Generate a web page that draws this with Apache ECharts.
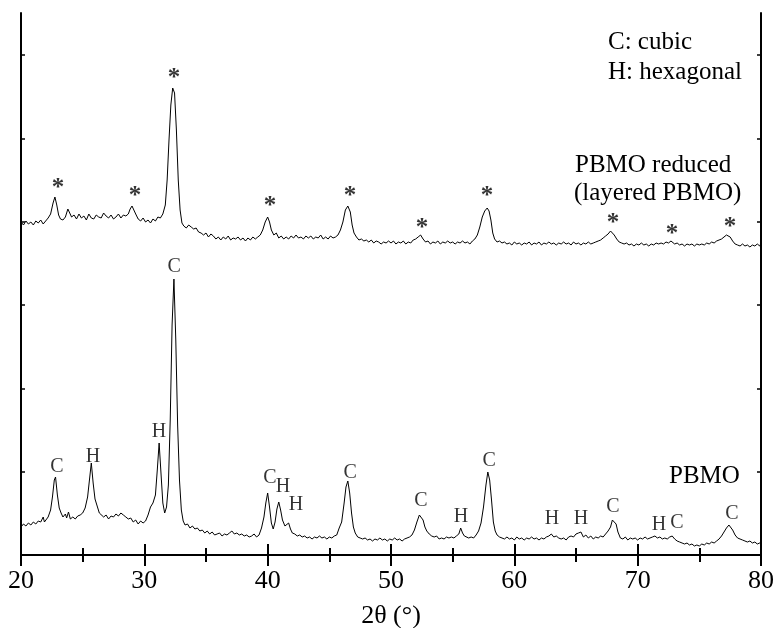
<!DOCTYPE html>
<html>
<head>
<meta charset="utf-8">
<script src="https://cdn.jsdelivr.net/npm/echarts@6/dist/echarts.min.js"></script>
<style>
html,body{margin:0;padding:0;background:#fff;}
#chart{width:777px;height:628px;}
</style>
</head>
<body>
<div id="chart"></div>
<script>
// 2θ (deg), intensity (a.u.)
const pbmoReduced = [
[20.0,333],[20.2,330],[20.4,334],[20.6,331],[20.8,333],[21.0,330],[21.2,334],[21.4,332],[21.6,335],[21.8,331],
[22.0,334],[22.2,337],[22.4,341],[22.6,352],[22.75,358],[22.9,350],[23.05,340],[23.2,336],[23.4,335],[23.6,338],
[23.8,346],[23.95,344],[24.1,338],[24.3,340],[24.5,336],[24.7,341],[24.9,337],[25.1,339],[25.3,335],[25.5,341],
[25.7,337],[25.9,336],[26.1,340],[26.3,338],[26.5,337],[26.7,342],[26.9,339],[27.1,337],[27.3,340],[27.5,336],
[27.7,338],[27.9,341],[28.1,337],[28.3,340],[28.5,339],[28.7,341],[28.85,346],[29.0,349],[29.15,347],[29.3,341],
[29.5,336],[29.7,334],[29.9,337],[30.1,333],[30.3,335],[30.5,332],[30.7,336],[30.9,334],[31.1,338],[31.3,337],
[31.5,341],[31.7,350],[31.85,375],[32.0,415],[32.15,450],[32.3,467],[32.45,462],[32.6,425],[32.75,375],[32.9,345],
[33.05,332],[33.2,329],[33.4,327],[33.6,330],[33.8,328],[34.0,326],[34.2,327],[34.4,323],[34.6,322],[34.8,320],
[35.0,322],[35.2,318],[35.4,321],[35.6,319],[35.8,316],[36.0,318],[36.2,315],[36.4,318],[36.6,316],[36.8,319],
[37.0,315],[37.2,317],[37.4,316],[37.6,318],[37.8,315],[38.0,317],[38.2,314],[38.4,317],[38.6,315],[38.8,318],
[39.0,316],[39.2,318],[39.4,320],[39.6,325],[39.8,333],[40.0,338],[40.15,333],[40.3,325],[40.5,320],[40.7,322],
[40.9,317],[41.1,319],[41.3,316],[41.5,318],[41.7,316],[41.9,319],[42.1,317],[42.3,320],[42.5,317],[42.7,318],
[42.9,316],[43.1,319],[43.3,317],[43.5,319],[43.7,316],[43.9,318],[44.1,317],[44.3,320],[44.5,316],[44.7,318],
[44.9,316],[45.1,319],[45.3,317],[45.5,318],[45.7,320],[45.9,325],[46.1,333],[46.3,345],[46.5,349],[46.7,343],
[46.85,330],[47.0,322],[47.2,318],[47.4,315],[47.6,316],[47.8,314],[48.0,315],[48.2,313],[48.4,315],[48.6,312],
[48.8,314],[49.0,313],[49.2,311],[49.4,313],[49.6,312],[49.8,314],[50.0,312],[50.2,314],[50.4,311],[50.6,313],
[50.8,312],[51.0,314],[51.2,311],[51.4,313],[51.6,312],[51.8,315],[52.0,316],[52.2,318],[52.4,320],[52.6,316],
[52.8,313],[53.0,314],[53.2,311],[53.4,313],[53.6,312],[53.8,314],[54.0,311],[54.2,313],[54.4,312],[54.6,314],
[54.8,312],[55.0,313],[55.2,311],[55.4,313],[55.6,312],[55.8,314],[56.0,312],[56.2,313],[56.4,311],[56.6,314],
[56.8,316],[57.0,320],[57.2,328],[57.4,338],[57.6,344],[57.8,347],[57.95,344],[58.1,335],[58.25,322],[58.4,316],
[58.6,313],[58.8,314],[59.0,312],[59.2,313],[59.4,311],[59.6,312],[59.8,310],[60.0,313],[60.2,311],[60.4,312],
[60.6,310],[60.8,312],[61.0,311],[61.2,313],[61.4,310],[61.6,312],[61.8,311],[62.0,313],[62.2,310],[62.4,312],
[62.6,311],[62.8,313],[63.0,311],[63.2,312],[63.4,310],[63.6,312],[63.8,311],[64.0,313],[64.2,311],[64.4,312],
[64.6,310],[64.8,313],[65.0,311],[65.2,312],[65.4,310],[65.6,312],[65.8,311],[66.0,313],[66.2,311],[66.4,312],
[66.6,313],[66.8,314],[67.0,315],[67.2,317],[67.4,319],[67.6,321],[67.8,324],[67.95,322],[68.1,320],[68.3,316],
[68.5,313],[68.7,312],[68.9,311],[69.1,312],[69.3,310],[69.5,311],[69.7,309],[69.9,311],[70.1,310],[70.3,312],
[70.5,310],[70.7,311],[70.9,309],[71.1,311],[71.3,310],[71.5,312],[71.7,311],[71.9,312],[72.1,311],[72.3,313],
[72.5,312],[72.7,314],[72.85,313],[73.0,311],[73.2,312],[73.4,310],[73.6,311],[73.8,309],[74.0,311],[74.2,310],
[74.4,311],[74.6,309],[74.8,311],[75.0,310],[75.2,311],[75.4,310],[75.6,312],[75.8,311],[76.0,313],[76.2,312],
[76.4,314],[76.6,315],[76.8,316],[77.0,318],[77.2,320],[77.35,321],[77.5,318],[77.7,314],[77.9,311],[78.1,310],
[78.3,309],[78.5,311],[78.7,309],[78.9,310],[79.1,308],[79.3,310],[79.5,309],[79.7,311],[79.9,309],[80.0,312]
];

const pbmo = [
[20.0,28],[20.2,31],[20.4,29],[20.6,32],[20.8,30],[21.0,33],[21.2,31],[21.4,34],[21.6,33],[21.8,38],
[21.9,33],[22.0,35],[22.2,38],[22.4,45],[22.55,58],[22.7,75],[22.8,78],[22.95,60],[23.1,47],[23.25,42],
[23.4,38],[23.6,41],[23.7,37],[23.85,43],[24.0,36],[24.2,38],[24.4,36],[24.6,39],[24.8,40],[25.0,42],
[25.2,47],[25.4,58],[25.55,75],[25.7,92],[25.85,72],[26.0,56],[26.2,48],[26.35,42],[26.5,44],[26.7,38],
[26.9,40],[27.1,36],[27.3,39],[27.5,38],[27.7,41],[27.9,39],[28.1,42],[28.3,40],[28.5,38],[28.7,36],
[28.9,37],[29.1,33],[29.3,35],[29.5,31],[29.7,34],[29.9,32],[30.1,34],[30.3,40],[30.5,48],[30.7,52],
[30.9,60],[31.05,85],[31.2,112],[31.35,82],[31.5,52],[31.65,42],[31.8,48],[31.95,70],[32.1,135],[32.25,230],
[32.4,276],[32.55,215],[32.7,130],[32.85,75],[33.0,45],[33.15,34],[33.3,30],[33.5,31],[33.7,27],[33.9,29],
[34.1,26],[34.3,27],[34.5,24],[34.7,25],[34.9,22],[35.1,24],[35.3,21],[35.5,23],[35.7,20],[35.9,21],
[36.1,22],[36.3,19],[36.5,21],[36.7,20],[36.9,22],[37.1,24],[37.3,21],[37.5,22],[37.7,20],[37.9,21],
[38.1,19],[38.3,20],[38.5,18],[38.7,19],[38.9,21],[39.1,18],[39.3,20],[39.5,27],[39.7,38],[39.85,52],
[40.0,62],[40.15,48],[40.3,32],[40.45,26],[40.6,33],[40.75,46],[40.9,53],[41.05,45],[41.2,35],[41.4,29],
[41.55,31],[41.7,32],[41.85,26],[42.0,22],[42.2,21],[42.4,19],[42.6,20],[42.8,18],[43.0,19],[43.2,17],
[43.4,18],[43.6,16],[43.8,18],[44.0,17],[44.2,19],[44.4,17],[44.6,18],[44.8,16],[45.0,18],[45.2,17],
[45.4,19],[45.6,20],[45.8,27],[46.0,33],[46.2,52],[46.35,68],[46.5,74],[46.65,62],[46.8,42],[46.95,28],
[47.1,22],[47.3,18],[47.5,17],[47.7,16],[47.9,17],[48.1,15],[48.3,16],[48.5,14],[48.7,16],[48.9,15],
[49.1,17],[49.3,15],[49.5,16],[49.7,14],[49.9,16],[50.1,15],[50.3,17],[50.5,15],[50.7,16],[50.9,14],
[51.1,16],[51.3,17],[51.5,18],[51.7,20],[51.9,25],[52.1,33],[52.3,40],[52.45,42],[52.6,35],[52.75,28],
[52.9,24],[53.1,21],[53.3,19],[53.5,18],[53.7,19],[53.9,16],[54.1,17],[54.3,16],[54.5,18],[54.7,17],
[54.9,18],[55.1,17],[55.3,19],[55.5,21],[55.65,27],[55.8,22],[55.95,19],[56.1,18],[56.3,17],[56.5,18],
[56.7,17],[56.9,20],[57.1,24],[57.3,32],[57.5,48],[57.7,70],[57.85,83],[58.0,75],[58.15,55],[58.3,33],
[58.45,24],[58.6,20],[58.8,18],[59.0,17],[59.2,16],[59.4,18],[59.6,16],[59.8,17],[60.0,15],[60.2,18],
[60.4,16],[60.6,17],[60.8,15],[61.0,17],[61.2,16],[61.4,18],[61.6,16],[61.8,17],[62.0,15],[62.2,17],
[62.4,16],[62.6,18],[62.8,19],[63.0,21],[63.2,18],[63.4,19],[63.6,17],[63.8,16],[64.0,17],[64.2,15],
[64.4,18],[64.6,19],[64.8,18],[65.0,21],[65.2,22],[65.4,23],[65.6,18],[65.8,20],[66.0,17],[66.2,19],
[66.4,16],[66.6,18],[66.8,17],[67.0,19],[67.2,18],[67.4,21],[67.6,24],[67.8,28],[67.95,35],[68.1,37],
[68.25,31],[68.4,23],[68.6,17],[68.8,16],[69.0,18],[69.2,15],[69.4,17],[69.6,16],[69.8,17],[70.0,15],
[70.2,17],[70.4,16],[70.6,18],[70.8,16],[71.0,17],[71.2,18],[71.4,19],[71.6,17],[71.8,18],[72.0,16],
[72.2,17],[72.4,16],[72.6,18],[72.8,19],[73.0,16],[73.2,14],[73.4,13],[73.6,12],[73.8,11],[74.0,12],
[74.2,10],[74.4,11],[74.6,9],[74.8,10],[75.0,9],[75.2,11],[75.4,10],[75.6,12],[75.8,11],[76.0,13],
[76.2,12],[76.4,14],[76.6,16],[76.8,19],[77.0,23],[77.2,27],[77.4,30],[77.55,29],[77.7,25],[77.9,20],
[78.1,17],[78.3,16],[78.5,15],[78.7,14],[78.9,13],[79.1,14],[79.3,12],[79.5,13],[79.7,11],[79.9,12],[80.0,11]
];

// peak markers: [2θ, intensity of marker anchor, text]
const reducedMarks = [
[23.0,366,'*'],[29.24,358,'*'],[32.4,476,'*'],[40.19,348,'*'],[46.68,358,'*'],
[52.51,326,'*'],[57.78,358,'*'],[68.0,331,'*'],[72.78,320,'*'],[77.49,327,'*']
];
const pbmoMarks = [
[22.92,88,'C'],[25.84,98,'H'],[31.19,123,'H'],[32.41,288,'C'],[40.19,77,'C'],[41.24,68,'H'],
[42.30,50,'H'],[46.68,82,'C'],[52.43,54,'C'],[55.68,38,'H'],[57.95,94,'C'],[63.05,36,'H'],
[65.41,36,'H'],[68.0,48,'C'],[71.73,30,'H'],[73.19,32,'C'],[77.65,41,'C']
];

const xTicks = [20,30,40,50,60,70,80];
const yTickValues = [0,83.33,166.67,250,333.33,416.67,500];
const xTitle = '2θ (°)';
const legendLines = ['C: cubic','H: hexagonal'];
const reducedName = ['PBMO reduced','(layered PBMO)'];
const pbmoName = 'PBMO';

const serif = '"Liberation Serif", "Times New Roman", serif';
const chart = echarts.init(document.getElementById('chart'), null, {renderer:'canvas'});

const axLine = {show:true, lineStyle:{color:'#000', width:2}};
function xAx(pos, labels){
  return {
    type:'value', position:pos, min:20, max:80, interval:10,
    axisLine:axLine,
    axisTick:{show:true, inside:true, length:11, lineStyle:{color:'#000', width:2}},
    minorTick:{show:true, splitNumber:2, length:7, lineStyle:{color:'#000', width:2}},
    splitLine:{show:false}, minorSplitLine:{show:false},
    axisLabel:{show:labels, color:'#000', fontFamily:serif, fontSize:26, margin:9,
      customValues: xTicks},
    name: labels ? xTitle : '', nameLocation:'middle', nameGap:44,
    nameTextStyle:{color:'#000', fontFamily:serif, fontSize:26}
  };
}
function yAx(pos){
  return {
    type:'value', position:pos, min:-4, max:542,
    axisLine:axLine,
    axisTick:{show:true, inside:true, length:4, customValues:yTickValues, lineStyle:{color:'#000', width:1.5}},
    axisLabel:{show:false}, splitLine:{show:false}
  };
}
function labelSeries(marks, size, weight){
  return {
    type:'scatter', xAxisIndex:0, yAxisIndex:0, symbolSize:1,
    itemStyle:{color:'rgba(0,0,0,0)'}, silent:true,
    data: marks,
    label:{show:true, position:'inside', formatter:p=>p.data[2], color:'#000',
      fontFamily:serif, fontSize:size, fontWeight:weight, verticalAlign:'middle', align:'center'}
  };
}

chart.setOption({
  animation:false,
  backgroundColor:'#fff',
  grid:{left:21, right:16, top:13, bottom:69, containLabel:false, outerBoundsMode:'none'},
  xAxis:[xAx('bottom', true), xAx('top', false)],
  yAxis:[yAx('left'), yAx('right')],
  series:[
    {type:'line', data:pbmoReduced, xAxisIndex:0, yAxisIndex:0, showSymbol:false,
      lineStyle:{color:'#000', width:1}},
    {type:'line', data:pbmo, xAxisIndex:0, yAxisIndex:0, showSymbol:false,
      lineStyle:{color:'#000', width:1}},
    labelSeries(reducedMarks, 25, 'bold'),
    labelSeries(pbmoMarks, 20, 'normal')
  ],
  graphic:[
    {type:'text', left:608, top:30, style:{text:legendLines[0], font:'25px '+serif, fill:'#000'}},
    {type:'text', left:608, top:60, style:{text:legendLines[1], font:'25px '+serif, fill:'#000'}},
    {type:'text', left:575, top:153, style:{text:reducedName[0], font:'25px '+serif, fill:'#000'}},
    {type:'text', left:574, top:181, style:{text:reducedName[1], font:'25px '+serif, fill:'#000'}},
    {type:'text', left:669, top:464, style:{text:pbmoName, font:'25px '+serif, fill:'#000'}}
  ]
});
</script>
</body>
</html>
